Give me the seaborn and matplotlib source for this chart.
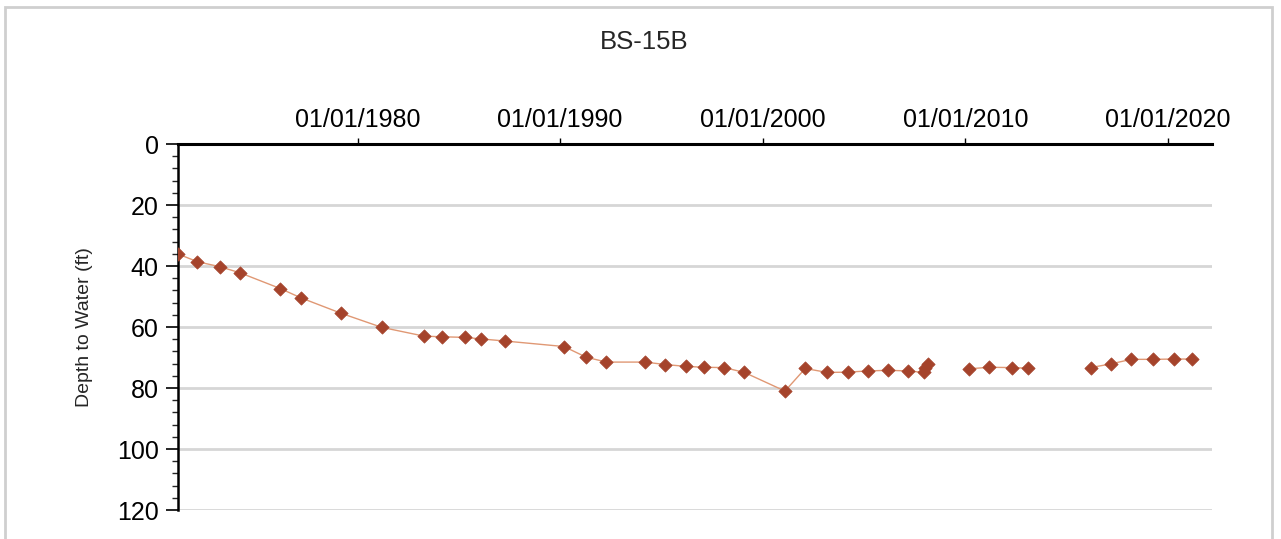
import pandas as pd
import matplotlib.pyplot as plt
import matplotlib.dates as mdates
from matplotlib.patches import Rectangle
from matplotlib.ticker import MultipleLocator
import seaborn as sns

dates = [
    "1971-02-25", "1972-02-05", "1973-03-10", "1974-03-10", "1976-03-10",
    "1977-03-10", "1979-03-10", "1981-03-10", "1983-04-15", "1984-03-10",
    "1985-04-15", "1986-02-05", "1987-04-15", "1990-03-10", "1991-04-15",
    "1992-04-15", "1994-03-10", "1995-03-10", "1996-03-10", "1997-02-05",
    "1998-02-05", "1999-02-05", "2001-02-05", "2002-02-05", "2003-03-10",
    "2004-03-10", "2005-03-10", "2006-03-10", "2007-03-10", "2007-12-15",
    "2008-01-10", "2008-02-25",
    "2010-03-10", "2011-03-10", "2012-04-15", "2013-02-05",
    "2016-03-10", "2017-03-10", "2018-03-10", "2019-04-15", "2020-04-15",
    "2021-03-10",
]
depth = [
    36.1, 38.6, 40.2, 42.2, 47.4,
    50.4, 55.5, 60.1, 63.0, 63.2,
    63.4, 63.9, 64.6, 66.4, 69.9,
    71.5, 71.5, 72.3, 72.9, 73.2,
    73.3, 74.9, 81.0, 73.6, 74.9,
    74.8, 74.4, 74.2, 74.4, 74.9,
    73.5, 72.2,
    73.7, 73.2, 73.3, 73.5,
    73.3, 72.1, 70.6, 70.6, 70.5,
    70.5,
]
# the line is broken where records are missing
segment = [1] * 32 + [2] * 4 + [3] * 6

df = pd.DataFrame({"date": pd.to_datetime(dates), "depth": depth, "segment": segment})

sns.set_theme(style="white")
plt.rcParams["font.family"] = ["Liberation Sans", "DejaVu Sans"]

fig = plt.figure(figsize=(12.81, 5.39), dpi=100)
ax = fig.add_axes([0.139, 0.0538, 0.8075, 0.679])

sns.lineplot(data=df, x="date", y="depth", units="segment", estimator=None,
             color="#e09874", linewidth=1.0, ax=ax, zorder=3)
sns.scatterplot(data=df, x="date", y="depth", marker="D", s=46,
                color="#a5432b", edgecolor="#a5432b", linewidth=0.5,
                ax=ax, zorder=4)

# axis layout: dates on top, depth increasing downward
ax.set_ylim(120, 0)
ax.set_xlim(pd.Timestamp("1971-02-20"), pd.Timestamp("2022-03-15"))
ax.xaxis.tick_top()
ax.xaxis.set_major_locator(mdates.YearLocator(10))
ax.xaxis.set_major_formatter(mdates.DateFormatter("%m/%d/%Y"))
ax.yaxis.set_major_locator(MultipleLocator(20))
ax.yaxis.set_minor_locator(MultipleLocator(4))

ax.tick_params(axis="x", which="major", direction="out", length=4, width=1,
               labelsize=18, pad=5, colors="black", top=True, bottom=False)
ax.tick_params(axis="y", which="major", direction="out", length=9, width=1.2,
               labelsize=18, pad=5, colors="black", left=True)
ax.tick_params(axis="y", which="minor", direction="out", length=4, width=1,
               left=True)

ax.grid(axis="y", color="#d6d6d6", linewidth=2)
ax.grid(axis="x", visible=False)
ax.set_axisbelow(True)

for side in ["right", "bottom"]:
    ax.spines[side].set_visible(False)
ax.spines["top"].set_linewidth(2.2)
ax.spines["top"].set_color("black")
ax.spines["left"].set_linewidth(1.8)
ax.spines["left"].set_color("black")

ax.set_xlabel("")
ax.set_ylabel("Depth to Water (ft)", fontsize=14, labelpad=17)

fig.text(0.503, 0.923, "BS-15B", ha="center", va="center", fontsize=18.5)

# light frame around the figure
fig.patches.append(Rectangle((0.004, -0.02), 0.989, 1.007, transform=fig.transFigure,
                             fill=False, edgecolor="#cfcfcf", linewidth=2))

fig.savefig("out.png", dpi=100)
